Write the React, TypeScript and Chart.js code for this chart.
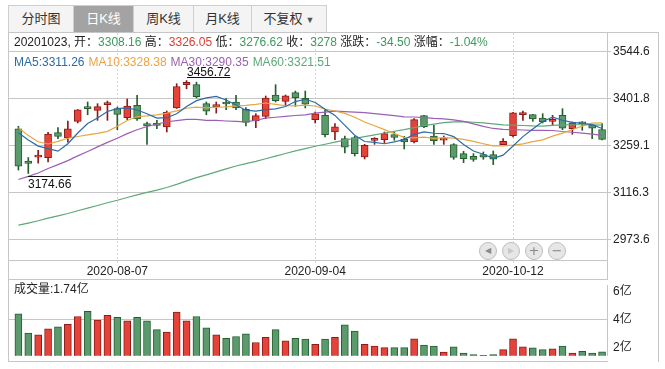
import React, { useEffect, useRef } from "react";
import { Chart, registerables } from "chart.js";
Chart.register(...registerables);

const dates = [
  "2020-07-24","2020-07-27","2020-07-28","2020-07-29","2020-07-30","2020-07-31",
  "2020-08-03","2020-08-04","2020-08-05","2020-08-06","2020-08-07",
  "2020-08-10","2020-08-11","2020-08-12","2020-08-13","2020-08-14",
  "2020-08-17","2020-08-18","2020-08-19","2020-08-20","2020-08-21",
  "2020-08-24","2020-08-25","2020-08-26","2020-08-27","2020-08-28",
  "2020-08-31","2020-09-01","2020-09-02","2020-09-03","2020-09-04",
  "2020-09-07","2020-09-08","2020-09-09","2020-09-10","2020-09-11",
  "2020-09-14","2020-09-15","2020-09-16","2020-09-17","2020-09-18",
  "2020-09-21","2020-09-22","2020-09-23","2020-09-24","2020-09-25",
  "2020-09-28","2020-09-29","2020-09-30","2020-10-09",
  "2020-10-12","2020-10-13","2020-10-14","2020-10-15","2020-10-16",
  "2020-10-19","2020-10-20","2020-10-21","2020-10-22","2020-10-23",
];

const opens = [
  3310.0, 3212.0, 3224.0, 3222.7, 3298.6, 3282.4, 3333.0, 3375.0, 3366.4, 3383.6,
  3371.4, 3344.0, 3381.5, 3326.0, 3327.0, 3315.8, 3373.5, 3444.3, 3444.3, 3386.6,
  3377.5, 3389.0, 3391.7, 3369.4, 3334.0, 3348.2, 3413.0, 3393.7, 3420.0, 3403.0,
  3338.0, 3351.2, 3300.6, 3280.4, 3283.4, 3224.7, 3275.0, 3277.3, 3292.5, 3278.3,
  3270.2, 3350.2, 3288.4, 3276.0, 3262.1, 3234.8, 3226.7, 3231.8, 3231.8, 3262.1,
  3289.5, 3353.2, 3353.2, 3343.1, 3333.0, 3351.2, 3310.7, 3331.0, 3320.8, 3308.16,
];
const highs = [
  3318.0, 3223.0, 3245.0, 3299.6, 3313.7, 3334.0, 3369.0, 3391.7, 3386.6, 3394.7,
  3376.5, 3400.8, 3411.9, 3331.0, 3336.0, 3364.3, 3447.3, 3456.72, 3452.0, 3391.7,
  3391.7, 3401.8, 3411.9, 3374.5, 3356.2, 3409.9, 3444.3, 3413.0, 3425.0, 3425.0,
  3361.3, 3366.4, 3325.9, 3288.4, 3287.4, 3263.1, 3283.4, 3300.6, 3300.6, 3287.4,
  3341.0, 3351.0, 3320.8, 3288.4, 3265.2, 3241.9, 3234.8, 3239.9, 3242.9, 3280.4,
  3360.3, 3364.3, 3354.0, 3356.2, 3351.2, 3371.4, 3331.0, 3332.0, 3321.8, 3326.05,
];
const lows = [
  3185.0, 3174.66, 3206.0, 3209.5, 3280.0, 3270.0, 3328.0, 3353.0, 3336.0, 3336.0,
  3307.7, 3338.0, 3336.0, 3263.0, 3310.7, 3300.6, 3372.0, 3432.0, 3404.0, 3353.0,
  3358.0, 3368.4, 3368.4, 3318.8, 3313.7, 3341.0, 3391.7, 3381.5, 3378.5, 3373.5,
  3327.9, 3285.4, 3277.3, 3236.8, 3227.7, 3218.6, 3263.1, 3267.2, 3275.3, 3249.0,
  3267.2, 3313.7, 3263.0, 3263.0, 3217.6, 3207.5, 3211.5, 3217.6, 3201.4, 3262.1,
  3285.4, 3336.0, 3333.0, 3327.9, 3320.8, 3307.7, 3293.5, 3305.7, 3280.4, 3276.62,
];
const closes = [
  3196.77, 3205.23, 3227.96, 3294.55, 3286.82, 3310.01, 3367.97, 3371.69, 3377.56, 3386.46,
  3354.04, 3379.25, 3340.29, 3319.27, 3320.73, 3360.10, 3438.80, 3451.09, 3408.13, 3363.90,
  3380.68, 3385.64, 3373.58, 3329.74, 3350.44, 3403.81, 3395.68, 3410.61, 3404.80, 3384.98,
  3355.37, 3292.59, 3316.42, 3254.63, 3234.82, 3260.35, 3278.81, 3295.68, 3283.92, 3270.44,
  3338.09, 3316.94, 3274.30, 3279.71, 3223.18, 3219.42, 3217.53, 3224.36, 3218.05, 3272.08,
  3358.47, 3359.75, 3340.61, 3332.18, 3336.36, 3312.50, 3328.10, 3325.03, 3312.50, 3278.00,
];
// 成交量（亿）
const volumes = [
  4.43, 3.07, 2.95, 3.38, 3.51, 3.69, 4.25, 4.62, 4.00, 4.33,
  4.19, 3.94, 4.19, 3.94, 3.32, 3.14, 4.56, 3.94, 4.25, 3.44,
  2.95, 2.70, 2.83, 3.01, 2.40, 2.77, 3.32, 2.52, 2.70, 2.64,
  2.27, 2.64, 2.77, 3.65, 3.22, 2.27, 2.15, 2.04, 2.04, 2.04,
  2.66, 2.21, 2.15, 1.72, 2.09, 1.65, 1.55, 1.49, 1.55, 1.90,
  2.66, 2.09, 2.03, 1.90, 1.96, 2.15, 1.65, 1.78, 1.65, 1.74,
];
const ma5 = [
  3298.02, 3276.23, 3257.65, 3249.92, 3242.27, 3264.91, 3297.46, 3326.21, 3342.81, 3362.74,
  3371.54, 3373.80, 3367.52, 3355.86, 3342.72, 3343.93, 3355.84, 3378.00, 3395.77, 3404.40,
  3408.52, 3397.89, 3382.39, 3366.71, 3364.02, 3368.64, 3370.65, 3378.06, 3393.07, 3399.98,
  3390.29, 3369.67, 3350.83, 3320.80, 3290.77, 3271.76, 3269.01, 3264.86, 3270.72, 3277.84,
  3293.39, 3301.01, 3296.74, 3295.90, 3286.44, 3262.71, 3242.83, 3232.84, 3220.51, 3230.29,
  3258.10, 3286.54, 3309.79, 3332.62, 3345.47, 3336.28, 3329.95, 3326.83, 3322.90, 3311.26,
];
const ma10 = [
  3313.35, 3289.55, 3270.88, 3264.21, 3271.88, 3281.47, 3286.85, 3291.93, 3296.37, 3302.50,
  3318.23, 3335.63, 3346.86, 3349.34, 3352.73, 3357.74, 3364.82, 3372.76, 3375.82, 3373.56,
  3376.22, 3376.86, 3380.19, 3381.24, 3384.21, 3388.58, 3384.27, 3380.22, 3379.89, 3382.00,
  3379.47, 3370.16, 3364.44, 3356.93, 3345.37, 3331.03, 3319.34, 3307.85, 3295.76, 3284.30,
  3282.58, 3285.01, 3280.80, 3283.31, 3282.14, 3278.05, 3271.92, 3264.79, 3258.20, 3258.37,
  3260.40, 3264.69, 3271.32, 3276.56, 3287.88, 3297.19, 3308.25, 3318.31, 3327.76, 3328.38,
];
const ma30 = [
  3156.33, 3165.81, 3176.08, 3189.57, 3201.40, 3213.73, 3228.01, 3241.48, 3255.23, 3269.09,
  3281.57, 3295.50, 3307.35, 3317.13, 3324.80, 3331.71, 3335.24, 3338.76, 3338.92, 3336.03,
  3335.94, 3334.02, 3332.65, 3331.60, 3336.28, 3342.60, 3345.32, 3348.31, 3350.70, 3352.69,
  3357.98, 3360.89, 3363.84, 3362.51, 3360.78, 3359.12, 3356.15, 3353.62, 3350.50, 3346.63,
  3346.10, 3344.02, 3341.82, 3340.50, 3337.25, 3332.56, 3325.19, 3317.63, 3311.29, 3308.23,
  3307.49, 3306.63, 3305.53, 3305.61, 3305.14, 3302.10, 3299.85, 3296.99, 3293.92, 3290.35,
];
const ma60 = [
  3017.40, 3023.89, 3030.86, 3038.73, 3045.84, 3053.04, 3061.31, 3069.25, 3077.30, 3085.55,
  3093.15, 3101.63, 3109.49, 3116.89, 3123.92, 3131.86, 3141.38, 3152.00, 3161.84, 3170.46,
  3179.52, 3188.67, 3197.36, 3204.26, 3211.41, 3219.42, 3227.36, 3235.36, 3243.14, 3250.29,
  3257.15, 3263.34, 3269.96, 3276.03, 3281.08, 3286.42, 3292.08, 3297.54, 3302.86, 3307.85,
  3313.83, 3319.75, 3324.58, 3328.81, 3331.02, 3332.13, 3330.20, 3328.19, 3325.10, 3322.12,
  3321.71, 3320.32, 3319.08, 3318.60, 3320.70, 3322.34, 3322.57, 3322.64, 3322.30, 3321.51,
];
const priceTicks = [2973.6, 3116.3, 3259.1, 3401.8, 3544.6];
const volumeTicks = [2, 4, 6];
const dateTicks = ["2020-08-07", "2020-09-04", "2020-10-12"];
const tabs = ["分时图", "日K线", "周K线", "月K线", "不复权"];

const C = {
  upFill: "#e5433a",
  upLine: "#8e1a17",
  downFill: "#5a9a6c",
  downLine: "#235f2c",
  ma5: "#2d6aa6",
  ma10: "#e9a445",
  ma30: "#9b5fb3",
  ma60: "#5fa879",
  grid: "#c6c6c6",
  frame: "#c6c6c6",
  text: "#222",
  red: "#e03a32",
  green: "#3c9a5f",
};

const NUM_FONT = '"Liberation Sans", "Noto Sans CJK SC", sans-serif';
const CJK_FONT = '"Liberation Sans", "Noto Sans CJK SC", sans-serif';

const isUp = (i: number) => closes[i] >= opens[i];
const fillColors = closes.map((_, i) => (isUp(i) ? C.upFill : C.downFill));
const lineColors = closes.map((_, i) => (isUp(i) ? C.upLine : C.downLine));

const X_MIN = -0.95;
const X_MAX = 59.5;

const extremaPlugin = {
  id: "extrema",
  afterDatasetsDraw(chart: any) {
    const { ctx, scales } = chart;
    const x = scales.x;
    const y = scales.y;
    let hi = 0;
    let lo = 0;
    highs.forEach((v, i) => { if (v > highs[hi]) hi = i; });
    lows.forEach((v, i) => { if (v < lows[lo]) lo = i; });
    ctx.save();
    ctx.font = "12px " + NUM_FONT;
    ctx.fillStyle = "#111";
    ctx.strokeStyle = "#111";
    ctx.lineWidth = 1;
    ctx.textAlign = "left";
    ctx.textBaseline = "alphabetic";
    const hx = Math.round(x.getPixelForValue(hi));
    const hy = y.getPixelForValue(highs[hi]);
    const ht = highs[hi].toFixed(2);
    const hw = ctx.measureText(ht).width;
    ctx.fillText(ht, hx, hy - 5);
    ctx.beginPath();
    ctx.moveTo(hx, Math.round(hy - 4) + 0.5);
    ctx.lineTo(hx + hw, Math.round(hy - 4) + 0.5);
    ctx.stroke();
    const lx = Math.round(x.getPixelForValue(lo));
    const ly = y.getPixelForValue(lows[lo]);
    const lt = lows[lo].toFixed(2);
    const lw = ctx.measureText(lt).width;
    ctx.fillText(lt, lx, ly + 15);
    ctx.beginPath();
    ctx.moveTo(lx, Math.round(ly + 3) + 0.5);
    ctx.lineTo(lx + lw, Math.round(ly + 3) + 0.5);
    ctx.stroke();
    ctx.restore();
  },
};

function PriceChart() {
  const ref = useRef<HTMLCanvasElement>(null);
  useEffect(() => {
    const lineDs = (label: string, data: number[], color: string) => ({
      type: "line" as const,
      label,
      data: data.map((v, i) => ({ x: i, y: v })),
      borderColor: color,
      borderWidth: 1.2,
      pointRadius: 0,
      tension: 0,
      order: 0,
    });
    const chart = new Chart(ref.current!, {
      type: "bar",
      data: {
        datasets: [
          lineDs("MA5", ma5, C.ma5),
          lineDs("MA10", ma10, C.ma10),
          lineDs("MA30", ma30, C.ma30),
          lineDs("MA60", ma60, C.ma60),
          {
            type: "bar",
            label: "body",
            data: opens.map((o, i) => ({ x: i, y: [o, closes[i]] })) as any,
            backgroundColor: fillColors,
            borderColor: lineColors,
            borderWidth: 1,
            borderSkipped: false,
            barThickness: 7,
            minBarLength: 2,
            grouped: false,
            order: 1,
          } as any,
          {
            type: "bar",
            label: "wick",
            data: lows.map((l, i) => ({ x: i, y: [l, highs[i]] })) as any,
            backgroundColor: lineColors,
            borderWidth: 0,
            barThickness: 1,
            grouped: false,
            order: 2,
          } as any,
        ],
      },
      options: {
        animation: false,
        responsive: false,
        maintainAspectRatio: false,
        layout: { padding: { left: 9, top: 33, right: 0, bottom: 0 } },
        plugins: { legend: { display: false }, tooltip: { enabled: false } },
        scales: {
          x: {
            type: "linear",
            offset: false,
            min: X_MIN,
            max: X_MAX,
            afterBuildTicks: (ax: any) => {
              ax.ticks = dateTicks.map((d) => ({ value: dates.indexOf(d) }));
            },
            afterFit: (ax: any) => { ax.height = 20; },
            ticks: {
              autoSkip: false,
              maxRotation: 0,
              padding: 1,
              color: "#222",
              font: { family: NUM_FONT, size: 12 },
              callback: (v: any) => dates[v as number],
            },
            grid: { offset: false, color: "#d8d8d8", tickLength: 3, tickColor: "#d8d8d8" },
            border: { display: true, color: C.frame, dash: [2, 2] },
          },
          y: {
            type: "linear",
            position: "right",
            min: 2911.7,
            max: 3601.3,
            afterBuildTicks: (ax: any) => {
              ax.ticks = priceTicks.map((v) => ({ value: v }));
            },
            afterFit: (ax: any) => { ax.width = 58; },
            ticks: {
              padding: 2,
              color: "#222",
              font: { family: NUM_FONT, size: 12 },
              callback: (v: any) => Number(v).toFixed(1),
            },
            grid: { color: C.grid, tickLength: 4 },
            border: { display: true, color: C.frame },
          },
        },
      } as any,
      plugins: [extremaPlugin],
    });
    return () => chart.destroy();
  }, []);
  return (
    <canvas
      ref={ref}
      width={665}
      height={280}
      style={{ position: "absolute", left: 0, top: 0, width: 665, height: 280 }}
    />
  );
}

function VolumeChart() {
  const ref = useRef<HTMLCanvasElement>(null);
  useEffect(() => {
    const chart = new Chart(ref.current!, {
      type: "bar",
      data: {
        datasets: [
          {
            label: "vol",
            data: volumes.map((v, i) => ({ x: i, y: v })) as any,
            backgroundColor: fillColors,
            borderColor: lineColors,
            borderWidth: 1,
            barThickness: 7,
            grouped: false,
          } as any,
        ],
      },
      options: {
        animation: false,
        responsive: false,
        maintainAspectRatio: false,
        layout: { padding: { left: 9, top: 7, right: 0, bottom: 8.5 } },
        plugins: { legend: { display: false }, tooltip: { enabled: false } },
        scales: {
          x: {
            type: "linear",
            offset: false,
            min: X_MIN,
            max: X_MAX,
            display: false,
            grid: { offset: false },
          },
          y: {
            type: "linear",
            position: "right",
            min: 1.457,
            max: 6.47,
            afterBuildTicks: (ax: any) => {
              ax.ticks = volumeTicks.map((v) => ({ value: v }));
            },
            afterFit: (ax: any) => { ax.width = 58; },
            ticks: {
              padding: 6,
              color: "#222",
              font: { family: CJK_FONT, size: 12 },
              callback: (v: any) => v + "亿",
            },
            grid: {
              color: (c: any) => (c.tick && c.tick.value === 4 ? C.grid : "rgba(0,0,0,0)"),
              drawTicks: false,
            },
            border: { display: true, color: C.frame },
          },
        },
      } as any,
    });
    return () => chart.destroy();
  }, []);
  return (
    <canvas
      ref={ref}
      width={665}
      height={97}
      style={{ position: "absolute", left: 0, top: 272, width: 665, height: 97 }}
    />
  );
}

const hLine = (left: number, top: number, width: number) => (
  <div style={{ position: "absolute", left, top, width, height: 1, background: C.frame }} />
);
const vLine = (left: number, top: number, height: number) => (
  <div style={{ position: "absolute", left, top, width: 1, height, background: C.frame }} />
);

export default function App() {
  const tabX = [8, 73, 133, 193, 251, 326];
  const info: [string, string][] = [
    ["20201023, 开：", C.text],
    ["3308.16", C.green],
    [" 高：", C.text],
    ["3326.05", C.red],
    [" 低：", C.text],
    ["3276.62", C.green],
    [" 收：", C.text],
    ["3278", C.green],
    [" 涨跌：", C.text],
    ["-34.50", C.green],
    [" 涨幅：", C.text],
    ["-1.04%", C.green],
  ];
  const maLegend: [string, string][] = [
    ["MA5:3311.26", C.ma5],
    ["MA10:3328.38", C.ma10],
    ["MA30:3290.35", C.ma30],
    ["MA60:3321.51", C.ma60],
  ];
  const btns = ["◀", "▶", "+", "−"];
  return (
    <div
      style={{
        position: "absolute",
        left: 0,
        top: 0,
        width: 665,
        height: 369,
        background: "#fff",
        overflow: "hidden",
        fontFamily: CJK_FONT,
        fontSize: 12,
        color: C.text,
      }}
    >
      {tabs.map((t, i) => {
        const active = i === 1;
        return (
          <div
            key={t}
            style={{
              position: "absolute",
              left: tabX[i],
              top: 5,
              width: tabX[i + 1] - tabX[i] - 1,
              height: 26,
              border: "1px solid #cfcfcf",
              borderRight: i === tabs.length - 1 ? "1px solid #cfcfcf" : "none",
              background: active ? "#a3a3a3" : "#f4f4f4",
              color: active ? "#fff" : "#333",
              fontSize: 13,
              lineHeight: "26px",
              textAlign: "center",
              boxSizing: "content-box",
            }}
          >
            {t}
            {i === 4 ? <span style={{ fontSize: 9, marginLeft: 3, color: "#555" }}>▼</span> : null}
          </div>
        );
      })}
      {hLine(8, 32, 651)}
      {vLine(8, 32, 330)}
      {vLine(658, 32, 330)}
      {vLine(607, 260, 20)}
      {hLine(8, 279, 600)}
      {hLine(8, 361, 600)}
      <PriceChart />
      <VolumeChart />
      <div style={{ position: "absolute", left: 14, top: 34, height: 17, lineHeight: "17px", whiteSpace: "pre" }}>
        {info.map(([t, c], i) => (
          <span key={i} style={{ color: c }}>{t}</span>
        ))}
      </div>
      <div style={{ position: "absolute", left: 14, top: 54, height: 16, lineHeight: "16px", whiteSpace: "pre" }}>
        {maLegend.map(([t, c], i) => (
          <span key={i} style={{ color: c, marginRight: 4 }}>{t}</span>
        ))}
      </div>
      <div style={{ position: "absolute", left: 14, top: 281, height: 16, lineHeight: "16px", whiteSpace: "pre" }}>
        成交量:1.74亿
      </div>
      {btns.map((b, i) => (
        <div
          key={b}
          style={{
            position: "absolute",
            left: 479 + i * 23,
            top: 242,
            width: 16,
            height: 16,
            borderRadius: "50%",
            border: "1px solid #bdbdbd",
            background: "#e6e6e6",
            color: i === 1 ? "#c8c8c8" : "#8a8a8a",
            fontSize: i < 2 ? 8 : 13,
            lineHeight: "16px",
            textAlign: "center",
            fontFamily: '"DejaVu Sans", sans-serif',
          }}
        >
          {b}
        </div>
      ))}
    </div>
  );
}
